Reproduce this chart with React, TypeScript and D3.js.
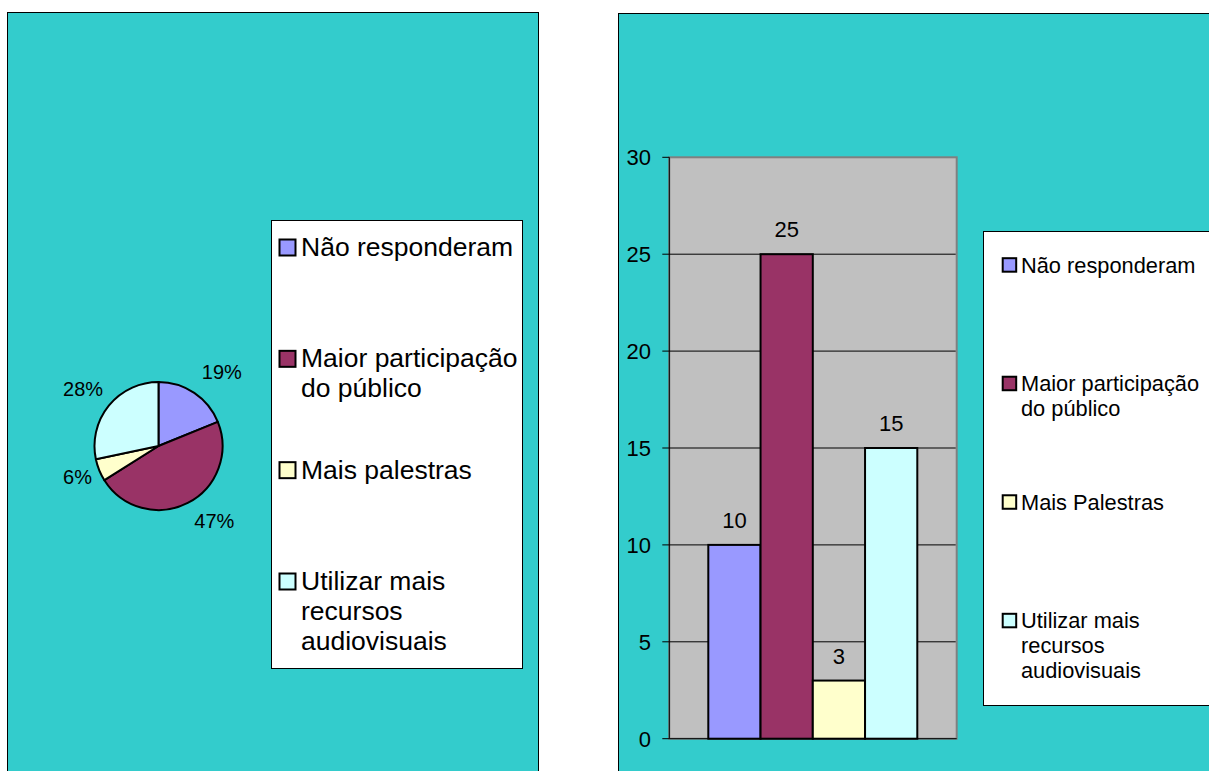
import React from "react";
import * as d3 from "d3";

const pieLegendLines: string[][] = [
  ["Não responderam"],
  ["Maior participação", "do público"],
  ["Mais palestras"],
  ["Utilizar mais", "recursos", "audiovisuais"],
];
const barLegendLines: string[][] = [
  ["Não responderam"],
  ["Maior participação", "do público"],
  ["Mais Palestras"],
  ["Utilizar mais", "recursos", "audiovisuais"],
];
const seriesKeys = ["nr", "mp", "pal", "av"];
const values = [10, 25, 3, 15];
const colors = ["#9999FF", "#993366", "#FFFFCC", "#CCFFFF"];
const yTicks = [0, 5, 10, 15, 20, 25, 30];

const FONT = "'Liberation Sans', Arial, sans-serif";
const BG = "#33CCCC";

export default function App() {
  // ---- pie ----
  const cx = 158.5, cy = 446, r = 64;
  const total = d3.sum(values);
  const pct = d3.format(".0%");
  const pie = d3.pie<number>().sort(null).value((d) => d)(values);
  const arc = d3.arc<d3.PieArcDatum<number>>().innerRadius(0).outerRadius(r);

  // ---- bars ----
  const y = d3.scaleLinear().domain([0, 30]).range([738.7, 157.3]);
  const plotL = 669.3, plotR = 956.7;
  const x = d3.scaleBand<string>().domain(seriesKeys).range([708.3, 917.3]).padding(0);

  const pieLegendBase = d3.scaleLinear().domain([0, 3]).range([256, 590]);
  const barLegendBase = d3.scaleLinear().domain([0, 3]).range([272.7, 628.3]);

  return (
    <svg
      width={1209}
      height={771}
      style={{ position: "absolute", left: 0, top: 0, background: "#fff" }}
      fontFamily={FONT}
    >
      {/* left panel */}
      <rect x={7.5} y={12.5} width={531} height={770} fill={BG} stroke="#000" strokeWidth={1} />
      {/* right panel */}
      <rect x={618.5} y={13.5} width={600} height={770} fill={BG} stroke="#000" strokeWidth={1} />

      {/* pie */}
      <g transform={`translate(${cx},${cy})`}>
        {pie.map((d, i) => (
          <path key={i} d={arc(d) || ""} fill={colors[i]} stroke="#000" strokeWidth={2} strokeLinejoin="round" />
        ))}
        {pie.map((d, i) => {
          const mid = (d.startAngle + d.endAngle) / 2;
          const s = Math.sin(mid);
          const c = Math.cos(mid);
          const lx = 2 + 74 * s;
          const ly = -80 * c + 7 * (1 - c) - 2;
          return (
            <text key={"l" + i} x={lx} y={ly} textAnchor={s >= 0 ? "start" : "end"} fontSize={20} fill="#000">
              {pct(values[i] / total)}
            </text>
          );
        })}
      </g>

      {/* pie legend */}
      <rect x={271.5} y={220.5} width={251} height={448} fill="#fff" stroke="#000" strokeWidth={1} />
      {pieLegendLines.map((lines, i) => {
        const b = pieLegendBase(i);
        return (
          <g key={"pl" + i}>
            <rect x={279.5} y={b - 16.5} width={16} height={16} fill={colors[i]} stroke="#000" strokeWidth={2} />
            {lines.map((t, j) => (
              <text key={j} x={301} y={b + j * 30} fontSize={26.5} fill="#000">
                {t}
              </text>
            ))}
          </g>
        );
      })}

      {/* bar plot area */}
      <rect x={plotL} y={y(30)} width={plotR - plotL} height={y(0) - y(30)} fill="#C0C0C0" stroke="#808080" strokeWidth={2} />
      {yTicks.filter((t) => t > 0 && t < 30).map((t) => (
        <line key={"g" + t} x1={plotL} x2={plotR - 1} y1={y(t)} y2={y(t)} stroke="#000" strokeWidth={1} />
      ))}
      {/* axes */}
      <line x1={plotL} x2={plotL} y1={y(30)} y2={y(0)} stroke="#000" strokeWidth={1} />
      <line x1={plotL} x2={plotR} y1={y(0)} y2={y(0)} stroke="#000" strokeWidth={1} />
      {yTicks.map((t) => (
        <g key={"t" + t}>
          <line x1={662.3} x2={plotL} y1={y(t)} y2={y(t)} stroke="#000" strokeWidth={1} />
          <text x={651} y={y(t)} dy="0.36em" textAnchor="end" fontSize={22} fill="#000">
            {t}
          </text>
        </g>
      ))}
      {/* bars */}
      {values.map((v, i) => (
        <g key={"b" + i}>
          <rect
            x={x(seriesKeys[i])!}
            y={y(v)}
            width={x.bandwidth()}
            height={y(0) - y(v)}
            fill={colors[i]}
            stroke="#000"
            strokeWidth={2}
          />
          <text
            x={x(seriesKeys[i])! + x.bandwidth() / 2}
            y={y(v) - 17}
            textAnchor="middle"
            fontSize={22}
            fill="#000"
          >
            {v}
          </text>
        </g>
      ))}

      {/* bar legend */}
      <rect x={983.5} y={231.5} width={240} height={474} fill="#fff" stroke="#000" strokeWidth={1} />
      {barLegendLines.map((lines, i) => {
        const b = barLegendBase(i);
        return (
          <g key={"bl" + i}>
            <rect x={1002.7} y={b - 14.5} width={13.5} height={13.5} fill={colors[i]} stroke="#000" strokeWidth={2} />
            {lines.map((t, j) => (
              <text key={j} x={1021} y={b + j * 25} fontSize={21.8} fill="#000">
                {t}
              </text>
            ))}
          </g>
        );
      })}
    </svg>
  );
}
